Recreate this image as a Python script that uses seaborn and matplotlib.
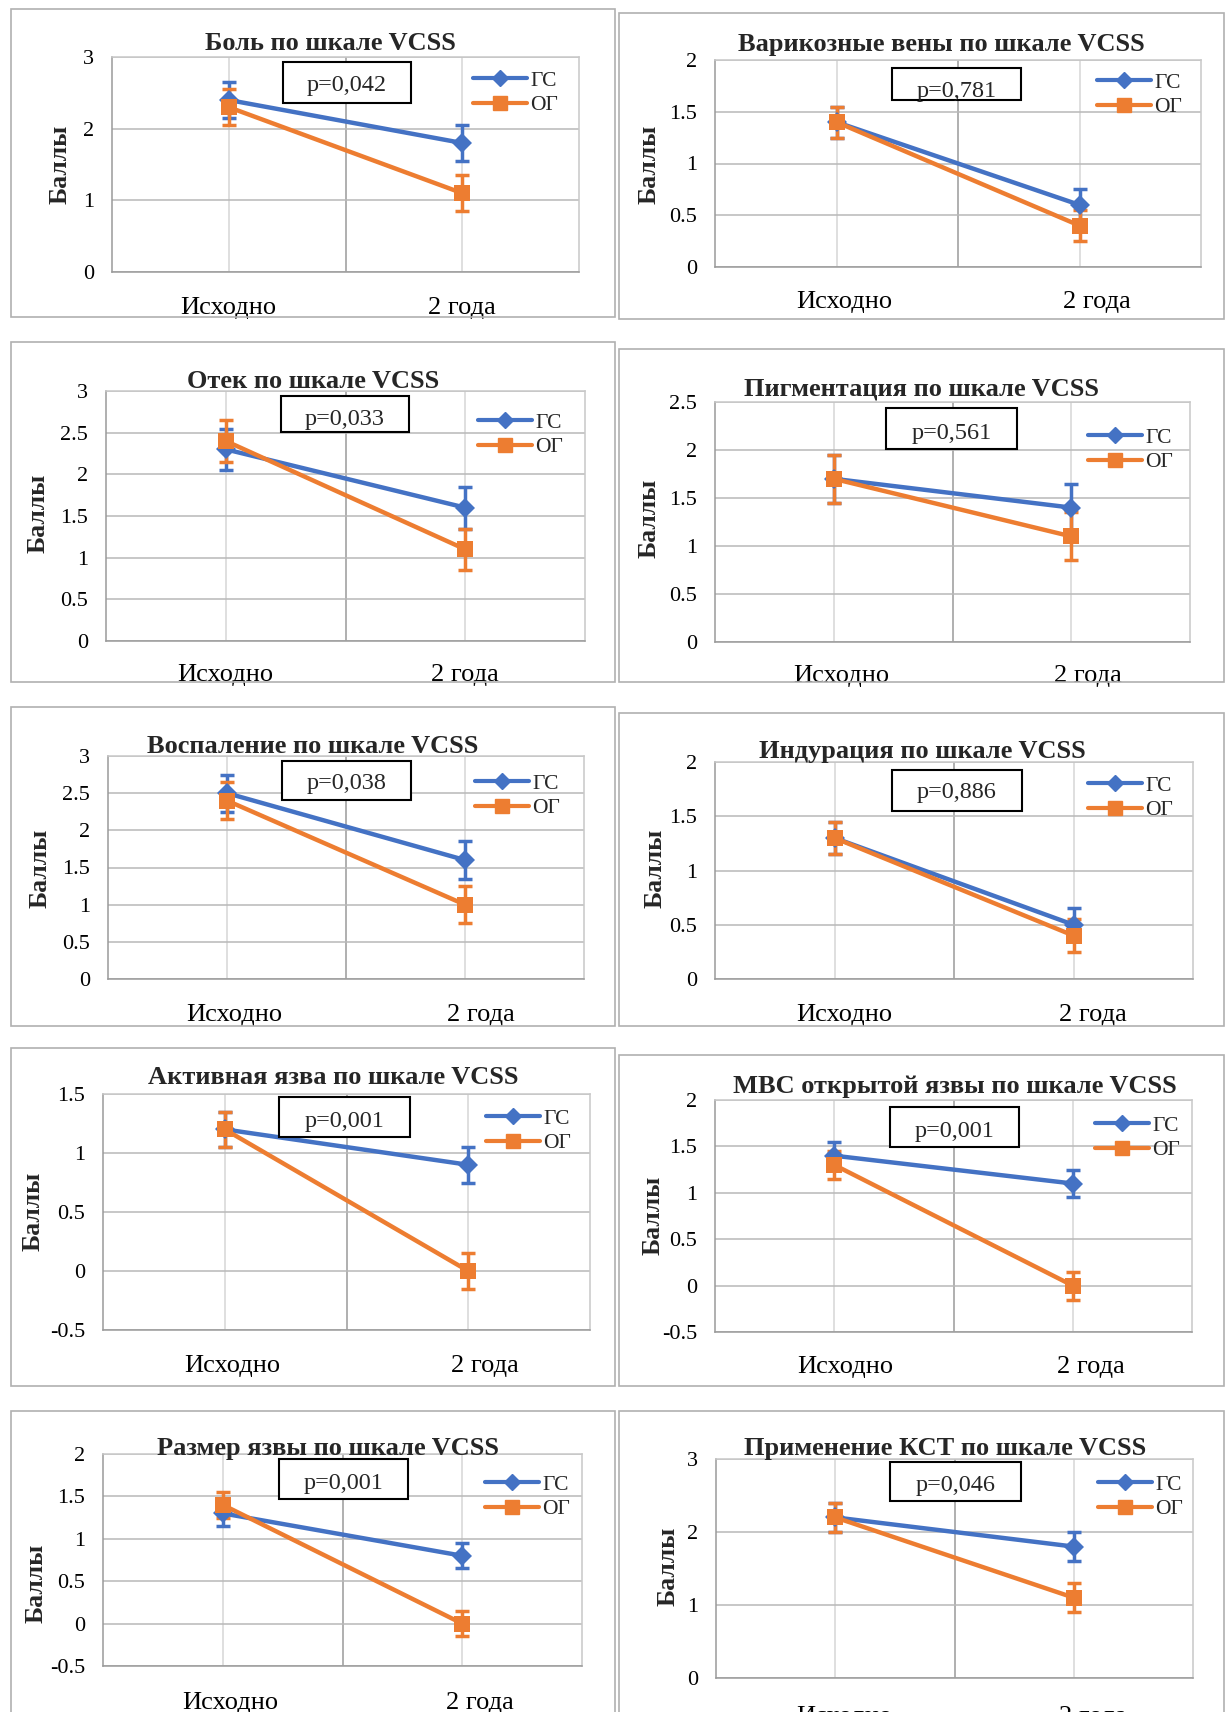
import matplotlib
matplotlib.use("Agg")
import matplotlib.pyplot as plt
import matplotlib.transforms as mtransforms
import seaborn as sns
import pandas as pd
from matplotlib.lines import Line2D
from matplotlib.patches import Rectangle
from matplotlib.ticker import FuncFormatter

sns.set_theme(style="white")
plt.rcParams['font.family'] = ['Liberation Serif', 'DejaVu Serif']

# --- data ---
times = ['Исходно', '2 года']
groups = ['ГС', 'ОГ']
titles = [
    'Боль по шкале VCSS',
    'Варикозные вены по шкале VCSS',
    'Отек по шкале VCSS',
    'Пигментация по шкале VCSS',
    'Воспаление по шкале VCSS',
    'Индурация по шкале VCSS',
    'Активная язва по шкале VCSS',
    'МВС открытой язвы по шкале VCSS',
    'Размер язвы по шкале VCSS',
    'Применение КСТ по шкале VCSS',
]
p_values = ['p=0,042', 'p=0,781', 'p=0,033', 'p=0,561', 'p=0,038',
            'p=0,886', 'p=0,001', 'p=0,001', 'p=0,001', 'p=0,046']
gs_mean = [[2.4, 1.8], [1.4, 0.6], [2.3, 1.6], [1.7, 1.4], [2.5, 1.6],
           [1.3, 0.5], [1.2, 0.9], [1.4, 1.1], [1.3, 0.8], [2.2, 1.8]]
og_mean = [[2.3, 1.1], [1.4, 0.4], [2.4, 1.1], [1.7, 1.1], [2.4, 1.0],
           [1.3, 0.4], [1.2, 0.0], [1.3, 0.0], [1.4, 0.0], [2.2, 1.1]]
gs_err = [0.25, 0.15, 0.25, 0.25, 0.25, 0.15, 0.15, 0.15, 0.15, 0.2]
og_err = [0.25, 0.15, 0.25, 0.25, 0.25, 0.15, 0.15, 0.15, 0.15, 0.2]
y_ranges = [(0, 3, 1), (0, 2, 0.5), (0, 3, 0.5), (0, 2.5, 0.5), (0, 3, 0.5),
            (0, 2, 0.5), (-0.5, 1.5, 0.5), (-0.5, 2, 0.5), (-0.5, 2, 0.5), (0, 3, 1)]

# --- layout (pixels, top-left origin) ---
W, H = 1229, 1712
panel_box = [(11, 9, 615, 317), (619, 13, 1224, 319),
             (11, 342, 615, 682), (619, 349, 1224, 682),
             (11, 707, 615, 1026), (619, 713, 1224, 1026),
             (11, 1048, 615, 1386), (619, 1055, 1224, 1386),
             (11, 1411, 615, 1730), (619, 1411, 1224, 1730)]
plot_box = [(112, 57, 579, 272), (715, 60, 1201, 267),
            (106, 391, 585, 641), (715, 402, 1190, 642),
            (108, 756, 584, 979), (715, 762, 1193, 979),
            (103, 1094, 590, 1330), (715, 1100, 1192, 1332),
            (103, 1454, 582, 1666), (716, 1459, 1193, 1678)]
title_xy = [(330, 43), (941, 44), (313, 382), (922, 389), (313, 746),
            (922, 752), (333, 1078), (955, 1087), (328, 1448), (945, 1448)]
pbox = [(283, 62, 411, 103), (892, 68, 1021, 100), (281, 396, 409, 432),
        (886, 408, 1017, 449), (282, 761, 411, 800), (892, 770, 1022, 811),
        (279, 1097, 410, 1137), (890, 1107, 1019, 1147), (279, 1459, 408, 1499),
        (890, 1462, 1021, 1501)]
p_text_dy = [3, 7, 6, 5, 3, 2, 5, 4, 4, 4]
legend_xy = [(473, 93), (1097, 95), (478, 435), (1088, 450), (475, 796),
             (1088, 798), (486, 1131), (1095, 1138), (485, 1497), (1098, 1497)]
ylabel_xy = [(60, 164), (649, 164), (38, 513), (649, 518), (40, 868),
             (655, 868), (33, 1211), (653, 1215), (36, 1583), (668, 1566)]
xlabel_y = [305, 299, 672, 673, 1012, 1012, 1363, 1364, 1700, 1714]
xlabel_dx = [(0, 0), (8, 17), (0, 0), (8, 17), (7, 16),
             (10, 19), (8, 17), (11, 18), (8, 18), (9, 19)]

BLUE = '#4472C4'
ORANGE = '#ED7D31'
PX = 72 / 100  # points per pixel at dpi 100

fig = plt.figure(figsize=(W / 100, H / 100), dpi=100)
fig.patch.set_facecolor('white')

for i in range(10):
    bx0, by0, bx1, by1 = panel_box[i]
    fig.patches.append(Rectangle((bx0 / W, 1 - by1 / H), (bx1 - bx0) / W, (by1 - by0) / H,
                                 transform=fig.transFigure, fill=False,
                                 edgecolor='#b0b0b0', lw=1.2))

    x0, y0, x1, y1 = plot_box[i]
    ax = fig.add_axes([x0 / W, 1 - y1 / H, (x1 - x0) / W, (y1 - y0) / H])
    ax.set_facecolor('white')

    df = pd.DataFrame({
        'x': [0, 1, 0, 1],
        'value': gs_mean[i] + og_mean[i],
        'group': [groups[0]] * 2 + [groups[1]] * 2,
    })
    sns.lineplot(data=df, x='x', y='value', hue='group', style='group',
                 palette={'ГС': BLUE, 'ОГ': ORANGE},
                 markers={'ГС': 'D', 'ОГ': 's'}, dashes=False,
                 lw=3.2, markersize=11, markeredgewidth=0,
                 legend=False, ax=ax, zorder=3)
    for line, ms in zip(ax.lines, [10, 12]):
        line.set_markersize(ms)
    ax.errorbar([0, 1], gs_mean[i], yerr=gs_err[i], fmt='none', ecolor=BLUE,
                elinewidth=2.5, capsize=5, capthick=2.5, zorder=2.5)
    ax.errorbar([0, 1], og_mean[i], yerr=og_err[i], fmt='none', ecolor=ORANGE,
                elinewidth=2.5, capsize=5, capthick=2.5, zorder=2.6)

    lo, hi, step = y_ranges[i]
    n = int(round((hi - lo) / step))
    yt = [lo + k * step for k in range(n + 1)]
    ax.set_ylim(lo, hi)
    ax.set_yticks(yt)
    ax.yaxis.set_major_formatter(FuncFormatter(lambda v, _: f'{v:g}'))
    ax.set_xlim(-0.5, 1.5)
    ax.set_xticks([0, 1])
    ax.set_xticklabels(times)
    ax.set_xticks([-0.5, 0.5, 1.5], minor=True)
    ax.set_xlabel('')
    ax.set_ylabel('')

    ax.grid(axis='y', color='#b8b8b8', lw=1.1)
    ax.set_axisbelow(True)
    for xv in [0, 1]:
        ax.axvline(xv, color='#d6d6d6', lw=1.1, zorder=0.5)
    ax.axvline(0.5, color='#9a9a9a', lw=1.1, zorder=0.5)
    for side in ['top', 'right']:
        ax.spines[side].set_color('#c8c8c8')
    for side in ['left', 'bottom']:
        ax.spines[side].set_color('#9a9a9a')
    for sp in ax.spines.values():
        sp.set_linewidth(1.1)

    pad_x = (xlabel_y[i] - y1 - 8) * PX
    ax.tick_params(axis='x', which='major', length=0, pad=pad_x, labelsize=19, colors='black')
    ax.tick_params(axis='x', which='minor', length=5, width=1.1, color='#9a9a9a', direction='out')
    ax.tick_params(axis='y', length=0, pad=13, labelsize=16, colors='black')
    for lab, dx in zip(ax.get_xticklabels(), xlabel_dx[i]):
        lab.set_transform(lab.get_transform() +
                          mtransforms.ScaledTranslation(dx / 100, 0, fig.dpi_scale_trans))

    handles = [Line2D([], [], color=BLUE, lw=3, marker='D', markersize=8),
               Line2D([], [], color=ORANGE, lw=3, marker='s', markersize=10)]
    lx, ly = legend_xy[i]
    ax.legend(handles, groups, loc='center left', bbox_to_anchor=(lx / W, 1 - ly / H),
              bbox_transform=fig.transFigure, frameon=False, fontsize=15.5,
              borderpad=0, borderaxespad=0, handlelength=2.5, handletextpad=0.15,
              labelspacing=0.22, numpoints=1)

    px0, py0, px1, py1 = pbox[i]
    fig.patches.append(Rectangle((px0 / W, 1 - py1 / H), (px1 - px0) / W, (py1 - py0) / H,
                                 transform=fig.transFigure, facecolor='white',
                                 edgecolor='black', lw=1.5, zorder=5))
    fig.text((px0 + px1) / 2 / W, 1 - ((py0 + py1) / 2 + p_text_dy[i]) / H, p_values[i],
             ha='center', va='center', fontsize=17.5, zorder=6)

    tx, ty = title_xy[i]
    fig.text(tx / W, 1 - ty / H, titles[i], ha='center', va='center',
             fontsize=19, fontweight='bold')
    yx, yy = ylabel_xy[i]
    fig.text(yx / W, 1 - yy / H, 'Баллы', ha='center', va='center', rotation=90,
             fontsize=18.5, fontweight='bold')

fig.savefig('out.png', dpi=100, facecolor='white')
